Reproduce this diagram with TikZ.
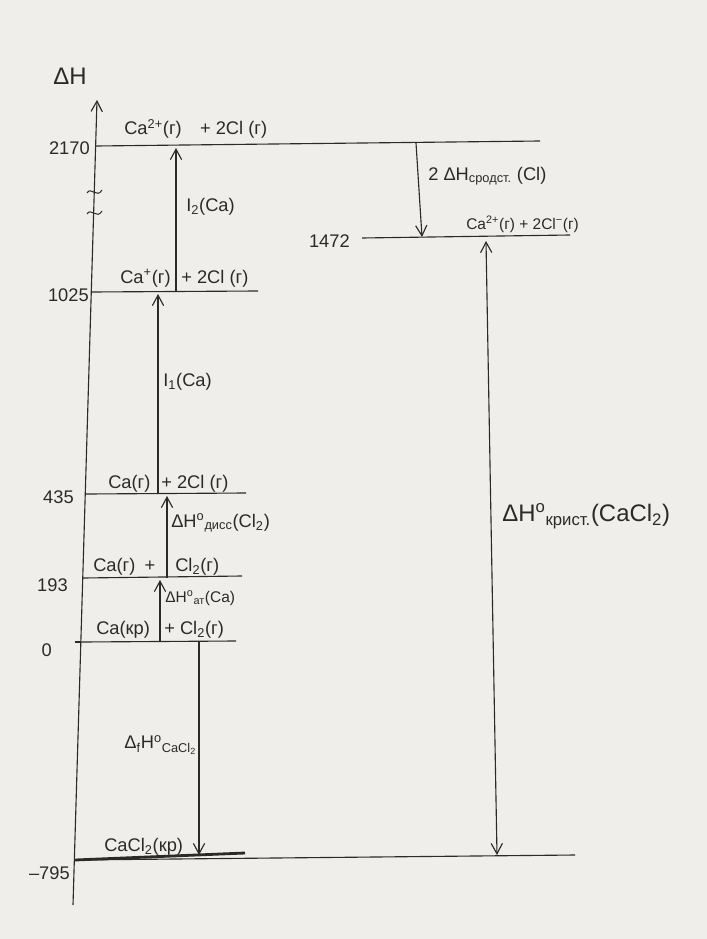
\documentclass[tikz,border=0pt]{standalone}
\usepackage{fontspec}
\setmainfont{Liberation Sans}
\usepackage{tikz}
\usetikzlibrary{arrows.meta,positioning}
\definecolor{ink}{HTML}{2A2A2A}
\definecolor{paper}{HTML}{EFEEEA}
\newcommand\degsub[1]{\textsuperscript{o}\textsubscript{#1}}

\begin{document}
\begin{tikzpicture}[x=0.025cm, y=-0.025cm, >={Straight Barb[length=2.6mm,width=2.8mm]},
  lvl/.style={draw=ink, line width=0.8pt},
  trans/.style={draw=ink, line width=0.8pt, ->},
  spec/.style={text=ink, font=\fontsize{13}{15}\selectfont, inner sep=0pt, anchor=base west},
  val/.style={text=ink, font=\fontsize{13}{15}\selectfont, inner sep=0pt, anchor=east}]
  \fill[paper] (0,0) rectangle (707,939);
  \useasboundingbox (0,0) rectangle (707,939);

  % axis
  \coordinate (ax0) at (73,905);
  \coordinate (ax1) at (97,100);
  \draw[trans] (ax0) -- (ax1);
  \node[text=ink, font=\fontsize{17}{19}\selectfont] (dH) at (70,76) {ΔH};
  \draw[ink, line width=0.7pt] (87,193) .. controls (91,186) and (97,199) .. (102,190);
  \draw[ink, line width=0.7pt] (87,214) .. controls (91,207) and (97,220) .. (102,211);

  % levels
  \coordinate (a2170) at (96,146);  \coordinate (b2170) at (540,141);
  \coordinate (a1472) at (362,238); \coordinate (b1472) at (570,235);
  \coordinate (a1025) at (91,292);  \coordinate (b1025) at (258,291);
  \coordinate (a435) at (86,494);   \coordinate (b435) at (246,493);
  \coordinate (a193) at (83,578);   \coordinate (b193) at (242,576);
  \coordinate (a0) at (81,642);     \coordinate (b0) at (236,641);
  \coordinate (am795) at (75,860); \coordinate (cm795) at (245,853); \coordinate (bm795) at (575,855);
  \draw[lvl] (a2170) -- (b2170);
  \draw[lvl] (a1472) -- (b1472);
  \draw[lvl] (a1025) -- (b1025);
  \draw[lvl] (a435) -- (b435);
  \draw[lvl] (a193) -- (b193);
  \draw[lvl] (a0) -- (b0);
  \draw[lvl] (am795) -- (bm795);
  \draw[draw=ink, line width=2pt] (am795) -- (cm795);
  \draw[lvl] (a0) -- +(-6,0);

  \node[val] (v2170) at (90,148) {2170};
  \node[val] (v1472) at (350,241) {1472};
  \node[val] (v1025) at (89,295) {1025};
  \node[val] (v435) at (74,497) {435};
  \node[val] (v193) at (68,585) {193};
  \node[val] (v0) at (52,650) {0};
  \node[val] (vm795) at (70,873) {–795};

  % species
  \node[spec] (s2170) at (124,135) {Ca\textsuperscript{2+}(г)\quad + 2Cl (г)};
  \node[spec, font=\fontsize{11}{13}\selectfont] (s1472) at (466,229) {Ca\textsuperscript{2+}(г) + 2Cl\textsuperscript{−}(г)};
  \node[spec] (s1025a) at (120,283) {Ca\textsuperscript{+}(г)};
  \node[spec] (s1025b) at (181,283) {+ 2Cl (г)};
  \node[spec] (s435a) at (108,488) {Ca(г)};
  \node[spec] (s435b) at (161,488) {+ 2Cl (г)};
  \node[spec] (s193a) at (93,571) {Ca(г)\enspace +};
  \node[spec] (s193b) at (175,571) {Cl\textsubscript{2}(г)};
  \node[spec] (s0a) at (96,634) {Ca(кр)};
  \node[spec] (s0b) at (164,634) {+ Cl\textsubscript{2}(г)};
  \node[spec] (sm795) at (104,851) {CaCl\textsubscript{2}(кр)};

  % steps
  \coordinate (i2a) at (176,292);  \coordinate (i2b) at (176,148);
  \coordinate (ea) at (416,143);   \coordinate (eb) at (422,237);
  \coordinate (i1a) at (158,494);  \coordinate (i1b) at (158,294);
  \coordinate (da) at (167,578);   \coordinate (db) at (167,496);
  \coordinate (ta) at (160,642);   \coordinate (tb) at (160,580);
  \coordinate (fa) at (199,642);   \coordinate (fb) at (199,855);
  \coordinate (ka) at (486,241);   \coordinate (kb) at (497,855);
  \draw[trans] (i2a) -- (i2b);
  \draw[trans] (ea) -- (eb);
  \draw[trans] (i1a) -- (i1b);
  \draw[trans] (da) -- (db);
  \draw[trans] (ta) -- (tb);
  \draw[trans] (fa) -- (fb);
  \draw[trans, <->] (ka) -- (kb);

  \node[val, anchor=west] (li2) at (186,207) {I\textsubscript{2}(Ca)};
  \node[val, anchor=west] (le) at (428,176) {2 ΔH\textsubscript{сродст.} (Cl)};
  \node[val, anchor=west] (li1) at (163,382) {I\textsubscript{1}(Ca)};
  \node[val, anchor=west] (ld) at (171,523) {ΔH\degsub{дисс}(Cl\textsubscript{2})};
  \node[val, anchor=west, font=\fontsize{11}{13}\selectfont] (lt) at (165,598) {ΔH\degsub{ат}(Ca)};
  \node[val] (lf) at (197,745) {Δ\textsubscript{f}H\degsub{CaCl\textsubscript{2}}};
  \node[val, anchor=west, font=\fontsize{17}{19}\selectfont] (lk) at (502,516) {ΔH\degsub{крист.}(CaCl\textsubscript{2})};
\end{tikzpicture}
\end{document}
